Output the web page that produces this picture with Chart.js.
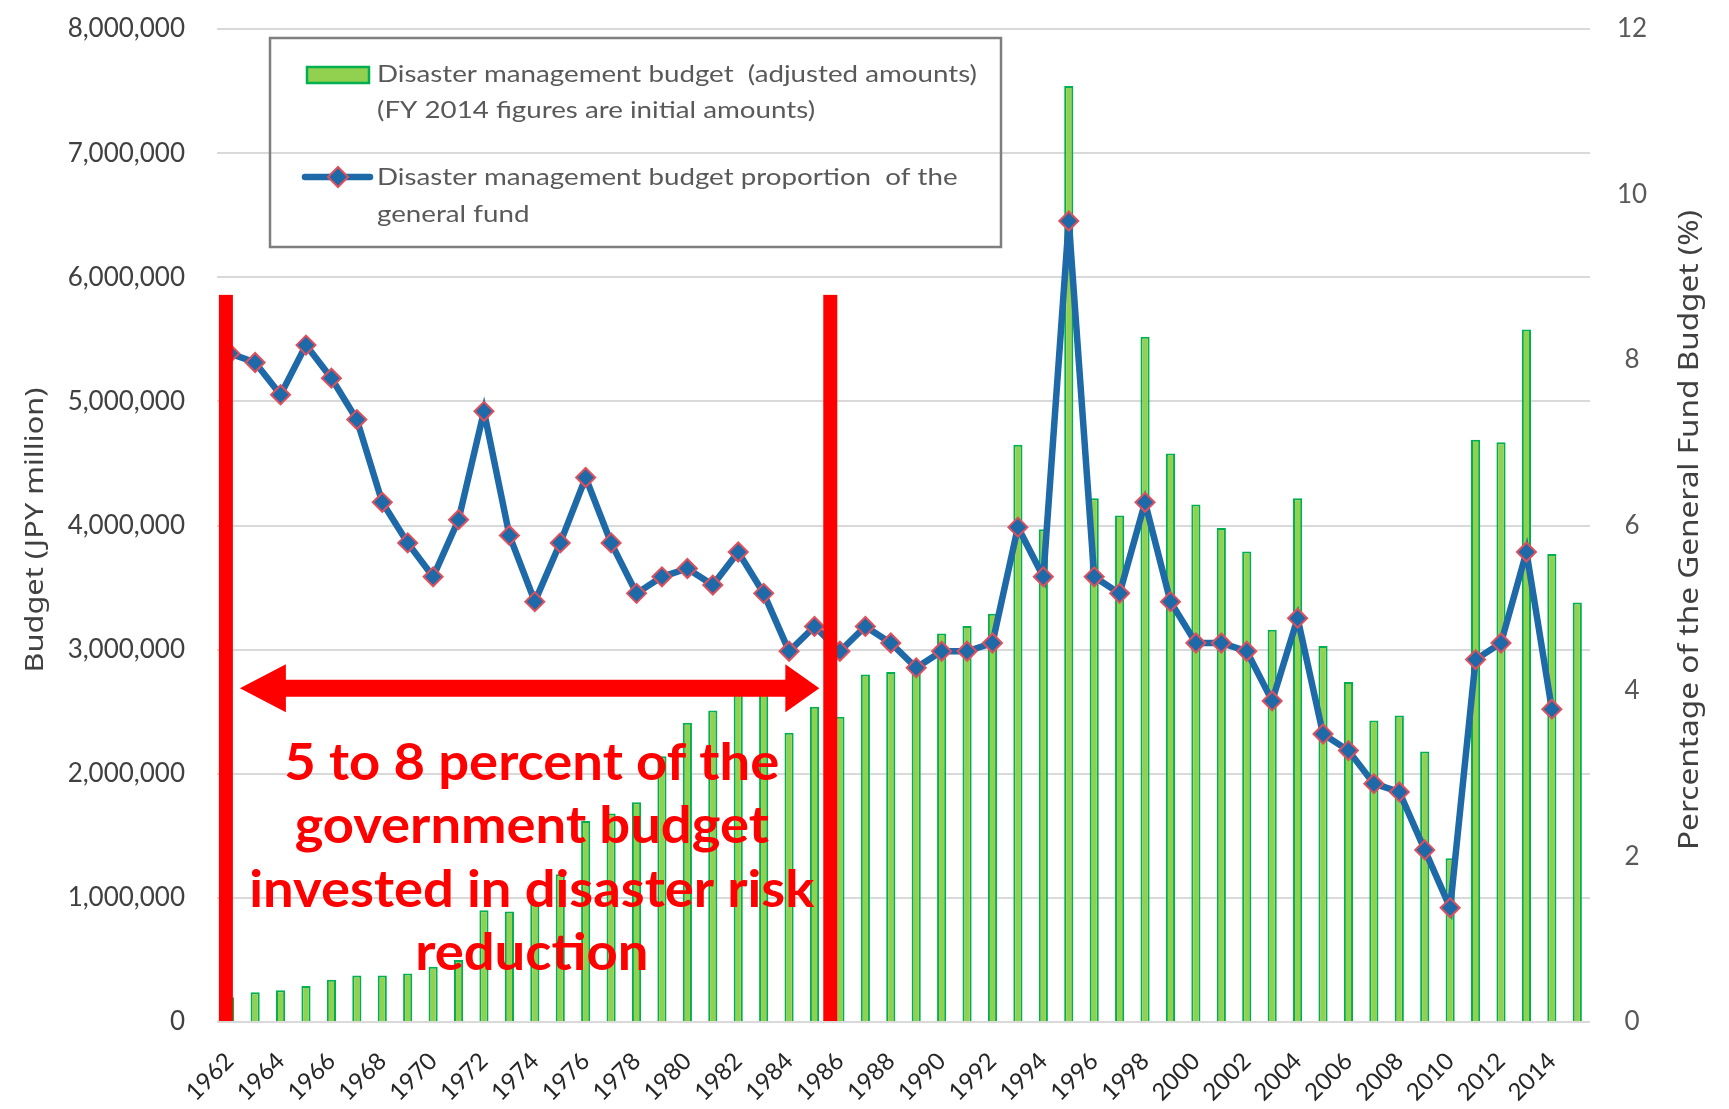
<!DOCTYPE html>
<html>
<head>
<meta charset="utf-8">
<script src="https://cdn.jsdelivr.net/npm/chart.js@4.4.0/dist/chart.umd.min.js"></script>
<style>
  html, body { margin: 0; padding: 0; background: #fff; }
  #wrap { width: 1729px; height: 1109px; }
</style>
</head>
<body>
<div id="wrap"><canvas id="budgetChart" width="1729" height="1109"></canvas></div>
<script>
// fiscal years
const years = [1962, 1963, 1964, 1965, 1966, 1967, 1968, 1969, 1970, 1971,
  1972, 1973, 1974, 1975, 1976, 1977, 1978, 1979, 1980, 1981,
  1982, 1983, 1984, 1985, 1986, 1987, 1988, 1989, 1990, 1991,
  1992, 1993, 1994, 1995, 1996, 1997, 1998, 1999, 2000, 2001,
  2002, 2003, 2004, 2005, 2006, 2007, 2008, 2009, 2010, 2011,
  2012, 2013, 2014, 2015];

// disaster management budget, JPY million
const budget = [200000, 240000, 255000, 290000, 340000, 375000, 375000, 390000, 445000, 500000,
  900000, 890000, 950000, 1190000, 1620000, 1680000, 1770000, 2140000, 2410000, 2510000,
  2650000, 2660000, 2330000, 2540000, 2460000, 2800000, 2820000, 2850000, 3130000, 3190000,
  3290000, 4650000, 3970000, 7540000, 4220000, 4080000, 5520000, 4580000, 4170000, 3980000,
  3790000, 3160000, 4220000, 3030000, 2740000, 2430000, 2470000, 2180000, 1320000, 4690000,
  4670000, 5580000, 3770000, 3380000];

// share of the general fund budget, % (no point for 2015)
const share = [8.08, 7.97, 7.58, 8.18, 7.78, 7.28, 6.28, 5.79, 5.38, 6.07,
  7.38, 5.88, 5.08, 5.79, 6.58, 5.79, 5.18, 5.38, 5.48, 5.28,
  5.68, 5.18, 4.48, 4.78, 4.48, 4.78, 4.58, 4.28, 4.48, 4.48,
  4.58, 5.98, 5.38, 9.68, 5.38, 5.18, 6.28, 5.08, 4.58, 4.58,
  4.48, 3.88, 4.88, 3.48, 3.28, 2.88, 2.78, 2.08, 1.38, 4.38,
  4.58, 5.68, 3.78, null];

const budgetMax = 8000000, budgetStep = 1000000;
const shareMax = 12, shareStep = 2;

const legendLines = [
  ["Disaster management budget  (adjusted amounts)", "(FY 2014 figures are initial amounts)"],
  ["Disaster management budget proportion  of the", "general fund"]
];
const noteLines = ["5 to 8 percent of the", "government budget", "invested in disaster risk", "reduction"];

const green = "#92D050", greenEdge = "#00B050";
const blue = "#1E69A8", diamondEdge = "#E0505C";
const red = "#FF0000";

function fitted(ctx, text, x, y, k) {
  ctx.save();
  ctx.translate(x, y);
  ctx.scale(k, 1);
  ctx.fillText(text, 0, 0);
  ctx.restore();
}

// keep tick label padding from pushing the plot area down
function fixVertical(width) {
  return (s) => {
    s.width = width;
    s.paddingTop = 0;
    s.paddingBottom = 0;
  };
}

const overlay = {
  id: "overlay",
  afterDatasetsDraw(chart) {
    const { ctx, scales: { x, y } } = chart;
    ctx.save();
    ctx.fillStyle = red;

    // vertical brackets 1962 .. 1985
    const top = y.getPixelForValue(5858000);
    const base = y.getPixelForValue(0) - 1;
    [-0.15, 23.62].forEach((p) => {
      const px = x.getPixelForValue(p);
      ctx.fillRect(px - 7, top, 14, base - top);
    });

    // double arrow
    const ay = y.getPixelForValue(2689000);
    const a0 = x.getPixelForValue(0.4), a1 = x.getPixelForValue(23.19);
    ctx.beginPath();
    ctx.moveTo(a0, ay);
    ctx.lineTo(a0 + 46, ay - 24);
    ctx.lineTo(a0 + 46, ay - 8.5);
    ctx.lineTo(a1 - 34, ay - 8.5);
    ctx.lineTo(a1 - 34, ay - 24);
    ctx.lineTo(a1, ay);
    ctx.lineTo(a1 - 34, ay + 24);
    ctx.lineTo(a1 - 34, ay + 8.5);
    ctx.lineTo(a0 + 46, ay + 8.5);
    ctx.lineTo(a0 + 46, ay + 24);
    ctx.closePath();
    ctx.fill();

    // note text
    ctx.font = "bold 51px Lato";
    ctx.textAlign = "center";
    ctx.textBaseline = "alphabetic";
    const k = 565 / ctx.measureText(noteLines[2]).width;
    const cx = x.getPixelForValue(11.88);
    const by = y.getPixelForValue(1950000);
    noteLines.forEach((t, i) => fitted(ctx, t, cx, by + i * 63.3, k));
    ctx.restore();
  },
  afterDraw(chart) {
    const { ctx } = chart;
    ctx.save();

    // legend box
    ctx.strokeStyle = "#7F7F7F";
    ctx.lineWidth = 2.5;
    ctx.strokeRect(270, 38, 731, 209);

    ctx.fillStyle = green;
    ctx.strokeStyle = greenEdge;
    ctx.lineWidth = 2.5;
    ctx.fillRect(307, 67, 62, 16);
    ctx.strokeRect(307, 67, 62, 16);

    ctx.strokeStyle = blue;
    ctx.lineWidth = 6.5;
    ctx.lineCap = "round";
    ctx.beginPath();
    ctx.moveTo(305, 177);
    ctx.lineTo(370, 177);
    ctx.stroke();
    ctx.fillStyle = blue;
    ctx.strokeStyle = diamondEdge;
    ctx.lineWidth = 2;
    ctx.beginPath();
    ctx.moveTo(338, 167); ctx.lineTo(348, 177); ctx.lineTo(338, 187); ctx.lineTo(328, 177);
    ctx.closePath();
    ctx.fill();
    ctx.stroke();

    ctx.fillStyle = "#595959";
    ctx.font = "23px Lato";
    ctx.textAlign = "left";
    ctx.textBaseline = "alphabetic";
    const k = 600 / ctx.measureText(legendLines[0][0]).width;
    fitted(ctx, legendLines[0][0], 377, 82, k);
    fitted(ctx, legendLines[0][1], 377, 118, k);
    fitted(ctx, legendLines[1][0], 377, 185, k);
    fitted(ctx, legendLines[1][1], 377, 222, k);

    // axis titles, both reading bottom to top
    ctx.fillStyle = "#404040";
    ctx.textAlign = "center";
    ctx.textBaseline = "middle";
    const midY = 530;
    ctx.font = "26px 'Noto Sans'";
    ctx.save();
    ctx.translate(36, midY);
    ctx.rotate(-Math.PI / 2);
    fitted(ctx, "Budget (JPY million)", 0, 0, 285 / ctx.measureText("Budget (JPY million)").width);
    ctx.restore();
    ctx.font = "28px 'Noto Sans'";
    const rt = "Percentage of the General Fund Budget (%)";
    ctx.save();
    ctx.translate(1690, midY);
    ctx.rotate(-Math.PI / 2);
    fitted(ctx, rt, 0, 0, 640 / ctx.measureText(rt).width);
    ctx.restore();

    ctx.restore();
  }
};

const budgetChart = new Chart("budgetChart", {
  type: "bar",
  data: {
    labels: years,
    datasets: [
      {
        type: "line",
        label: "Disaster management budget proportion of the general fund",
        data: share,
        yAxisID: "y1",
        borderColor: blue,
        borderWidth: 6.5,
        tension: 0,
        pointStyle: "rectRot",
        pointRadius: 9.5,
        pointBackgroundColor: blue,
        pointBorderColor: diamondEdge,
        pointBorderWidth: 2,
        order: 0,
      },
      {
        type: "bar",
        label: "Disaster management budget (adjusted amounts)",
        data: budget,
        yAxisID: "y",
        backgroundColor: green,
        borderColor: greenEdge,
        borderWidth: 2,
        barPercentage: 0.36,
        categoryPercentage: 1,
        order: 1,
      },
    ],
  },
  options: {
    responsive: false,
    animation: false,
    layout: { padding: { top: 29, left: 0, right: 0, bottom: 0 } },
    plugins: {
      legend: { display: false },
      tooltip: { enabled: false },
    },
    scales: {
      x: {
        grid: { display: false },
        border: { display: false },
        ticks: {
          autoSkip: false,
          maxRotation: 45,
          minRotation: 45,
          padding: 17,
          color: "#262626",
          font: { family: "Lato", size: 24 },
          callback: (v, i) => (i % 2 === 0 ? String(years[i]) : ""),
        },
        afterFit: (s) => { s.height = 87; },
      },
      y: {
        position: "left",
        min: 0,
        max: budgetMax,
        ticks: {
          stepSize: budgetStep,
          padding: 32,
          color: "#404040",
          font: { family: "Lato", size: 26 },
          callback: (v) => v.toLocaleString("en-US"),
        },
        grid: { color: "#D9D9D9", lineWidth: 2, drawTicks: false },
        border: { display: false },
        afterFit: fixVertical(217),
      },
      y1: {
        position: "right",
        min: 0,
        max: shareMax,
        ticks: {
          stepSize: shareStep,
          padding: 27,
          crossAlign: "center",
          color: "#595959",
          font: { family: "Lato", size: 26 },
        },
        grid: { display: false, drawTicks: false },
        border: { display: false },
        afterFit: fixVertical(139),
      },
    },
  },
  plugins: [overlay],
});
</script>
</body>
</html>
